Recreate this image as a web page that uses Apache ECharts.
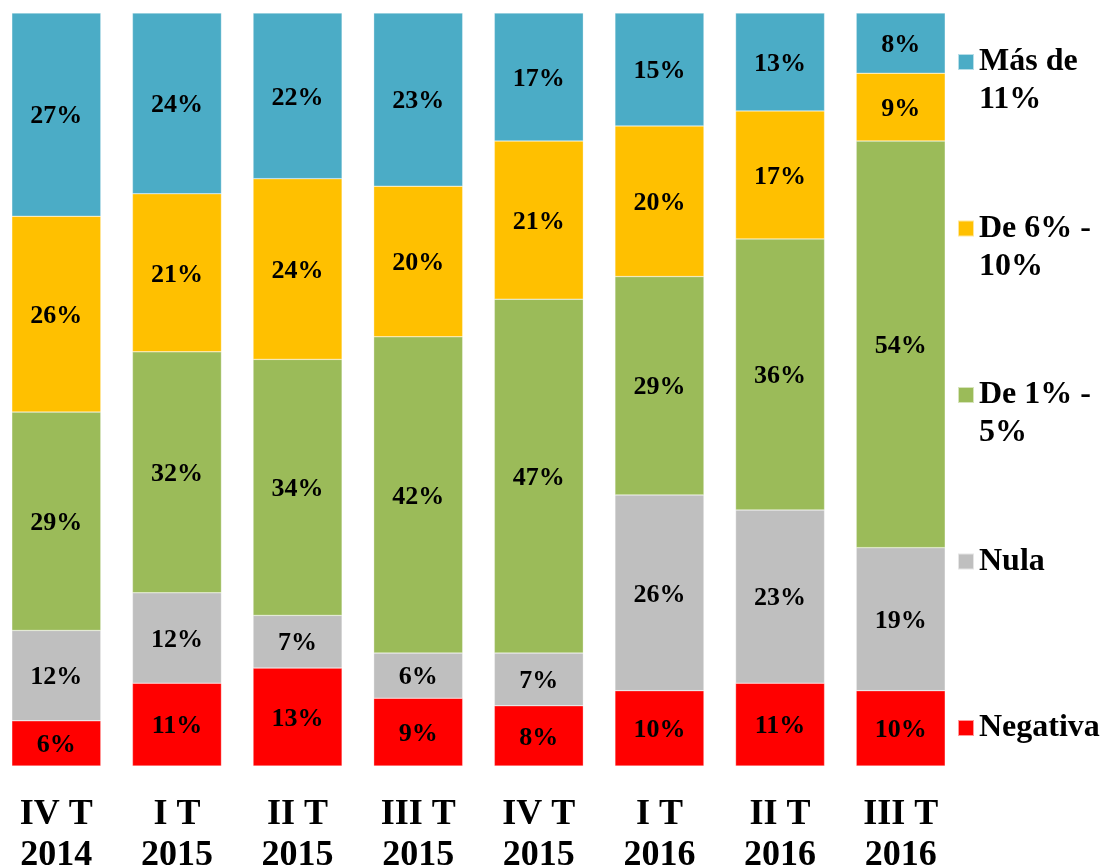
<!DOCTYPE html>
<html>
<head>
<meta charset="utf-8">
<script src="https://cdn.jsdelivr.net/npm/echarts@6/dist/echarts.min.js"></script>
<style>
html,body{margin:0;padding:0;background:#fff;}
#chart{width:1102px;height:866px;}
</style>
</head>
<body>
<div id="chart"></div>
<script>
const categories = ['IV T\n2014','I T\n2015','II T\n2015','III T\n2015','IV T\n2015','I T\n2016','II T\n2016','III T\n2016'];
const negativa = [6, 11, 13, 9, 8, 10, 11, 10];
const nula     = [12, 12, 7, 6, 7, 26, 23, 19];
const de1a5    = [29, 32, 34, 42, 47, 29, 36, 54];
const de6a10   = [26, 21, 24, 20, 21, 20, 17, 9];
const masDe11  = [27, 24, 22, 23, 17, 15, 13, 8];

const seriesNames = ['Negativa','Nula','De 1% - 5%','De 6% - 10%','Más de 11%'];
const legendText = {
  'Negativa': ' \nNegativa\n ',
  'Nula': ' \nNula\n ',
  'De 1% - 5%': ' \nDe 1% -\n5%',
  'De 6% - 10%': ' \nDe 6% -\n10%',
  'Más de 11%': ' \nMás de\n11%'
};
const colors = ['#FF0000','#BFBFBF','#9BBB59','#FFC000','#4BACC6'];
const dataSets = [negativa, nula, de1a5, de6a10, masDe11];
const FONT = "'Times New Roman','Liberation Serif',serif";

const chart = echarts.init(document.getElementById('chart'));
chart.setOption({
  animation: false,
  backgroundColor: '#ffffff',
  grid: { left: -4, right: 141, top: 13, bottom: 100, containLabel: false, outerBoundsMode: 'none' },
  xAxis: {
    type: 'category',
    data: categories,
    axisLine: { show: false },
    axisTick: { show: false },
    axisLabel: {
      margin: 28,
      fontFamily: FONT,
      fontWeight: 'bold',
      fontSize: 36,
      lineHeight: 41,
      color: '#000',
      interval: 0
    }
  },
  yAxis: {
    type: 'value', min: 0, max: 100, show: false
  },
  legend: {
    orient: 'vertical',
    left: 957,
    top: 5,
    padding: 0,
    itemWidth: 16,
    itemHeight: 16,
    itemGap: 52.5,
    icon: 'rect',
    selectedMode: false,
    data: seriesNames.slice().reverse(),
    formatter: function (name) { return legendText[name]; },
    textStyle: {
      fontFamily: FONT,
      fontWeight: 'bold',
      fontSize: 32,
      lineHeight: 38,
      color: '#000'
    }
  },
  series: seriesNames.map(function (name, i) {
    return {
      name: name,
      type: 'bar',
      stack: 'total',
      barWidth: 89,
      data: dataSets[i],
      itemStyle: { color: colors[i], borderColor: 'rgba(255,255,255,0.6)', borderWidth: 0.5 },
      label: {
        show: true,
        position: 'inside',
        formatter: '{c}%',
        fontFamily: FONT,
        fontWeight: 'bold',
        fontSize: 26,
        color: '#000',
        textBorderWidth: 0,
        offset: [0, 2]
      }
    };
  })
});
</script>
</body>
</html>
